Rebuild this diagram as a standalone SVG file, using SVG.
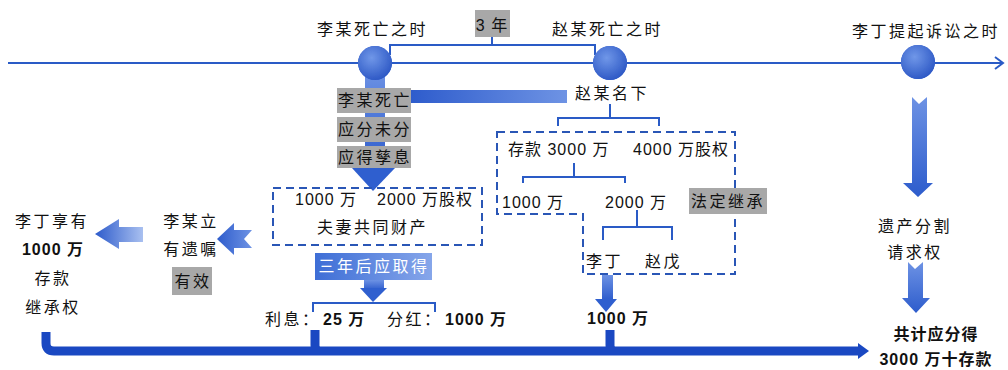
<svg xmlns="http://www.w3.org/2000/svg" width="1008" height="370" viewBox="0 0 1008 370">
<style>
text{font-family:"Liberation Sans","Noto Sans CJK SC",sans-serif;font-size:16px;fill:#111}
.cj{letter-spacing:2.5px}
.mx{letter-spacing:1px}
.b{font-weight:bold;letter-spacing:1px}
.m{text-anchor:middle}
.w{fill:#fff}
.gray{fill:#a8a8a8}
.thin{fill:none;stroke:#2a5bc6;stroke-width:2}
.dash{fill:none;stroke:#2a56b6;stroke-width:2;stroke-dasharray:8 5}
</style>
<defs>
<radialGradient id="gc" cx="0.4" cy="0.35" r="0.7"><stop offset="0" stop-color="#7097e8"/><stop offset="1" stop-color="#2b56c4"/></radialGradient>
<linearGradient id="gv" x1="0" y1="0" x2="0" y2="1"><stop offset="0" stop-color="#6d92e4"/><stop offset="1" stop-color="#2d5ccc"/></linearGradient>
<linearGradient id="gh" x1="0" y1="0" x2="1" y2="0"><stop offset="0" stop-color="#2e5ccc"/><stop offset="1" stop-color="#6e93e4"/></linearGradient>
<linearGradient id="gl" x1="0" y1="0" x2="1" y2="0"><stop offset="0" stop-color="#2d5bcb"/><stop offset="1" stop-color="#a9c0f0"/></linearGradient>
<linearGradient id="gb" x1="0" y1="0" x2="1" y2="0"><stop offset="0" stop-color="#3e6ed6"/><stop offset="1" stop-color="#86a6ea"/></linearGradient>
<filter id="glow" x="-50%" y="-50%" width="200%" height="200%"><feGaussianBlur in="SourceAlpha" stdDeviation="3"/><feOffset dy="3"/><feComponentTransfer><feFuncA type="linear" slope="0.35"/></feComponentTransfer><feFlood flood-color="#3a66d0"/><feComposite operator="in" in2="SourceAlpha"/><feMerge><feMergeNode/><feMergeNode in="SourceGraphic"/></feMerge></filter>
</defs>

<g id="connectors">
<line x1="8" y1="63" x2="1002" y2="63" stroke="#2a5bc6" stroke-width="2"/>
<path d="M995,57 L1003,63 L995,69" class="thin"/>
<path d="M390,55 V45 H595 V55 M492,45 V37" class="thin"/>
<path d="M610,104 V118 M558,126 V118 H659 V126" class="thin"/>
<path d="M574,163 V177 M523,183 V177 H625 V183" class="thin"/>
<path d="M637,210 V227 M603,240 V227 H672 V240" class="thin"/>
<path d="M313,312 V303 H435 V312" class="thin"/>
<rect x="365" y="70" width="20" height="100" fill="url(#gv)"/>
<polygon points="352,168 395,168 373,191" fill="#2f5fcf"/>
<rect x="410" y="90" width="157" height="13" fill="url(#gh)"/>
<polygon points="95,234 119,219 119,227 143,227 143,242 119,242 119,249" fill="url(#gl)"/>
<polygon points="217,239 234,223 234,230 252,230 244,239 252,248 234,248 234,255" fill="url(#gh)"/>
<rect x="364" y="280" width="20" height="10" fill="url(#gv)"/>
<polygon points="360,288 387,288 373,302" fill="#2f5fcf"/>
<rect x="602" y="275" width="11" height="25" fill="url(#gv)"/>
<polygon points="595,299 617,299 606,312" fill="#2f5fcf"/>
<polygon points="912,97 919,104 927,97 927,183 933,183 918,197 903,183 912,183" fill="url(#gv)"/>
<polygon points="908,262 915,269 923,262 923,298 930,298 916,313 902,298 908,298" fill="url(#gv)"/>
<path d="M46,332 V343 Q46,351 54,351 H860 M315,330 V345 Q315,351 321,351 M610,330 V345 Q610,351 616,351" fill="none" stroke="#1a48c2" stroke-width="9"/>
<polygon points="858,343 869,351 858,359" fill="#1a48c2"/>
</g>

<g id="node-lmoment">
<circle cx="375" cy="63" r="17" fill="url(#gc)" filter="url(#glow)"/>
<text x="317" y="35" class="cj">李某死亡之时</text>
</g>
<g id="node-3years">
<rect x="475" y="10" width="35" height="27" class="gray"/>
<text x="492" y="31" class="m mx">3 年</text>
</g>
<g id="node-zmoment">
<circle cx="610" cy="63" r="17" fill="url(#gc)" filter="url(#glow)"/>
<text x="552" y="35" class="cj">赵某死亡之时</text>
</g>
<g id="node-suit">
<circle cx="918" cy="62" r="17" fill="url(#gc)" filter="url(#glow)"/>
<text x="852" y="37" class="cj">李丁提起诉讼之时</text>
</g>

<g id="node-labels-li">
<rect x="337" y="88" width="74" height="25" class="gray"/>
<text x="375" y="106" class="m cj">李某死亡</text>
<rect x="337" y="117" width="74" height="25" class="gray"/>
<text x="375" y="135" class="m cj">应分未分</text>
<rect x="337" y="146" width="74" height="22" class="gray"/>
<text x="375" y="163" class="m cj">应得孳息</text>
</g>

<g id="node-zhaoname">
<text x="575" y="99" class="cj">赵某名下</text>
</g>

<g id="node-estate">
<path d="M497,132 H735 V274 H583 V214 H497 Z" class="dash"/>
<text x="508" y="155" class="mx">存款 3000 万</text>
<text x="633" y="155" class="mx">4000 万股权</text>
<text x="502" y="208" class="mx">1000 万</text>
<text x="605" y="208" class="mx">2000 万</text>
<text x="586" y="267" class="cj">李丁</text>
<text x="645" y="267" class="cj">赵戊</text>
<rect x="689" y="188" width="78" height="26" class="gray"/>
<text x="728" y="207" class="m cj">法定继承</text>
</g>

<g id="node-joint">
<rect x="273" y="188" width="209" height="57" class="dash"/>
<text x="295" y="205" class="mx">1000 万</text>
<text x="377" y="205" class="mx">2000 万股权</text>
<text x="317" y="233" class="cj">夫妻共同财产</text>
</g>

<g id="node-threeyears">
<rect x="315" y="253" width="117" height="27" fill="url(#gb)"/>
<text x="374" y="272" class="m cj w">三年后应取得</text>
</g>

<g id="node-income">
<text x="265" y="325" class="cj">利息：</text>
<text x="323" y="325" class="b">25 万</text>
<text x="387" y="325" class="cj">分红：</text>
<text x="445" y="325" class="b">1000 万</text>
</g>

<g id="node-1000b">
<text x="587" y="324" class="b">1000 万</text>
</g>

<g id="node-will">
<text x="191" y="227" class="m cj">李某立</text>
<text x="191" y="255" class="m cj">有遗嘱</text>
<rect x="172" y="267" width="40" height="28" class="gray"/>
<text x="193" y="287" class="m cj">有效</text>
</g>

<g id="node-liding">
<text x="52" y="227" class="m cj">李丁享有</text>
<text x="53" y="255" class="m b">1000 万</text>
<text x="53" y="284" class="m cj">存款</text>
<text x="53" y="313" class="m cj">继承权</text>
</g>

<g id="node-claim">
<text x="915" y="232" class="m cj">遗产分割</text>
<text x="915" y="258" class="m cj">请求权</text>
</g>

<g id="node-total">
<text x="936" y="340" class="m b">共计应分得</text>
<text x="936" y="365" class="m b">3000 万十存款</text>
</g>
</svg>
